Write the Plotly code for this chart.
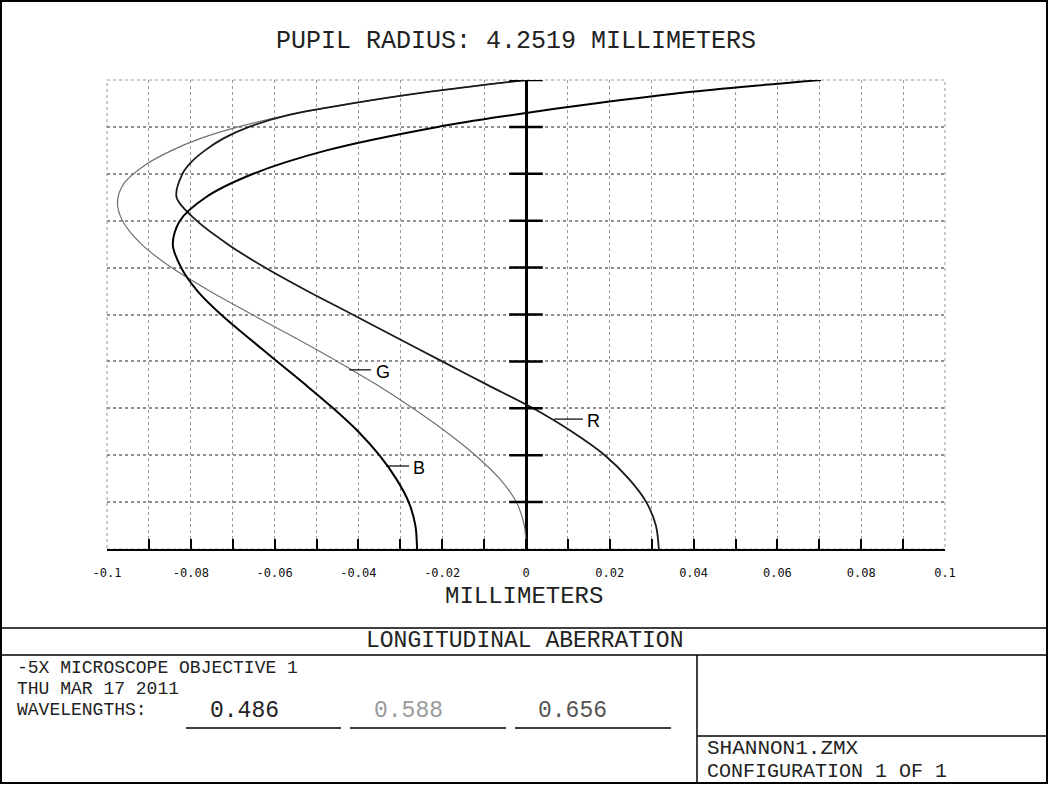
import plotly.graph_objects as go

# ---------------- data ----------------
pupil_B = [0.0, 0.05, 0.10, 0.15, 0.20, 0.25, 0.30, 0.35, 0.40, 0.45, 0.50, 0.55, 0.60, 0.65,
           0.70, 0.75, 0.80, 0.85, 0.90, 0.925, 0.95, 0.975, 1.0]
long_B = [-0.0260, -0.0264, -0.0280, -0.0310, -0.0350, -0.0400, -0.0460, -0.0526, -0.0594, -0.0662,
          -0.0728, -0.0784, -0.0823, -0.0843, -0.0826, -0.0764, -0.0651, -0.0476, -0.0211, -0.0036,
          0.0164, 0.0395, 0.0704]

pupil_G = [0.0, 0.05, 0.10, 0.15, 0.20, 0.25, 0.30, 0.35, 0.40, 0.45, 0.50, 0.55, 0.60, 0.65,
           0.70, 0.74, 0.78, 0.82, 0.85, 0.875, 0.90, 0.925, 0.95, 0.975, 1.0]
long_G = [0.0, -0.0004, -0.0023, -0.0063, -0.0121, -0.0191, -0.0270, -0.0356, -0.0450, -0.0550,
          -0.0654, -0.0755, -0.0846, -0.0918, -0.0963, -0.0975, -0.0959, -0.0907, -0.0845, -0.0778,
          -0.0687, -0.0568, -0.0415, -0.0229, 0.0]

pupil_R = [0.0, 0.05, 0.10, 0.15, 0.20, 0.25, 0.30, 0.35, 0.40, 0.45, 0.50, 0.55, 0.60, 0.65,
           0.70, 0.75, 0.80, 0.825, 0.85, 0.875, 0.90, 0.925, 0.95, 0.975, 1.0]
long_R = [0.0317, 0.0310, 0.0287, 0.0245, 0.0188, 0.0110, 0.0017, -0.0092, -0.0200, -0.0307,
          -0.0414, -0.0522, -0.0623, -0.0712, -0.0786, -0.0834, -0.0820, -0.0799, -0.0766, -0.0723,
          -0.0661, -0.0568, -0.0415, -0.0229, 0.0]

x_ticks = [round(-0.1 + 0.01 * i, 2) for i in range(21)]
x_tick_labels = ["-0.1", "", "-0.08", "", "-0.06", "", "-0.04", "", "-0.02", "", "0",
                 "", "0.02", "", "0.04", "", "0.06", "", "0.08", "", "0.1"]
pupil_ticks = [0.1, 0.2, 0.3, 0.4, 0.5, 0.6, 0.7, 0.8, 0.9, 1.0]
wavelengths = ["0.486", "0.588", "0.656"]

# ---------------- layout helpers ----------------
W, H = 1049, 785
PL, PR, PT, PB = 107, 945, 80, 549


def px(xp):
    return (xp - PL) / (PR - PL)


def py(yp):
    return (PB - yp) / (PB - PT)


MONO = "Liberation Mono"
TXT = "#222222"

fig = go.Figure()

fig.add_trace(go.Scatter(x=long_G, y=pupil_G, mode="lines",
                         line=dict(color="#707070", width=1.2, shape="spline", smoothing=0.9),
                         hoverinfo="skip", showlegend=False))
fig.add_trace(go.Scatter(x=long_R, y=pupil_R, mode="lines",
                         line=dict(color="#1a1a1a", width=1.8, shape="spline", smoothing=0.9),
                         hoverinfo="skip", showlegend=False))
fig.add_trace(go.Scatter(x=long_B, y=pupil_B, mode="lines",
                         line=dict(color="#000000", width=2.0, shape="spline", smoothing=0.9),
                         hoverinfo="skip", showlegend=False))
# tick marks on the central axis
fig.add_trace(go.Scatter(x=[0] * len(pupil_ticks), y=pupil_ticks, mode="markers",
                         marker=dict(symbol="line-ew", size=24, line=dict(color="black", width=2.5)),
                         hoverinfo="skip", showlegend=False))

shapes = []
shapes.append(dict(type="rect", xref="paper", yref="paper", x0=0, x1=1, y0=0, y1=1,
                   line=dict(color="#999999", width=1, dash="dot"), layer="below"))


def hline(x0, x1, y, w=1.5):
    shapes.append(dict(type="line", xref="paper", yref="paper", x0=px(x0), x1=px(x1),
                       y0=py(y), y1=py(y), line=dict(color="black", width=w)))


def vline(x, y0, y1, w=1.5):
    shapes.append(dict(type="line", xref="paper", yref="paper", x0=px(x), x1=px(x),
                       y0=py(y0), y1=py(y1), line=dict(color="black", width=w)))


shapes.append(dict(type="rect", xref="paper", yref="paper", x0=px(1), x1=px(1047),
                   y0=py(783), y1=py(1), line=dict(color="black", width=2)))
hline(1, 1047, 628)
hline(1, 1047, 655)
vline(697, 655, 783)
hline(697, 1047, 736)
hline(186, 341, 728)
hline(350, 506, 728)
hline(515, 671, 728)

for (xa, xb, yy) in [(-0.0422, -0.0370, 0.382), (-0.0334, -0.0279, 0.177), (0.0067, 0.0136, 0.277)]:
    shapes.append(dict(type="line", xref="x", yref="y", x0=xa, x1=xb, y0=yy, y1=yy,
                       line=dict(color="black", width=1.2)))

annotations = []


def text(t, xp, yp, size, anchor="left", color=TXT, family=MONO):
    annotations.append(dict(text=t, xref="paper", yref="paper", x=px(xp), y=py(yp),
                            xanchor=anchor, yanchor="middle", showarrow=False,
                            font=dict(family=family, size=size, color=color)))


text("PUPIL RADIUS: 4.2519 MILLIMETERS", 516, 41, 25, "center")
text("MILLIMETERS", 524, 596, 24, "center")
text("LONGITUDINAL ABERRATION", 524, 641, 23, "center")
text("-5X MICROSCOPE OBJECTIVE 1", 15, 668, 18)
text("THU MAR 17 2011", 15, 689, 18)
text("WAVELENGTHS:", 15, 710, 18)
text(wavelengths[0], 208, 711, 23, color="#222222")
text(wavelengths[1], 372, 711, 23, color="#9a9a9a")
text(wavelengths[2], 536, 711, 23, color="#555555")
text("SHANNON1.ZMX", 705, 748, 21)
text("CONFIGURATION 1 OF 1", 705, 771.5, 20)

for (lab, xx, yy) in [("G", -0.0341, 0.377), ("B", -0.0255, 0.173), ("R", 0.0160, 0.273)]:
    annotations.append(dict(text=lab, xref="x", yref="y", x=xx, y=yy, xanchor="center",
                            yanchor="middle", showarrow=False,
                            font=dict(family="Liberation Sans", size=18, color="black")))

fig.update_layout(
    width=W, height=H,
    margin=dict(l=PL, r=W - PR, t=PT, b=H - PB, pad=0),
    paper_bgcolor="white", plot_bgcolor="white",
    shapes=shapes, annotations=annotations,
    showlegend=False,
    xaxis=dict(range=[-0.1, 0.1], tickvals=x_ticks, ticktext=x_tick_labels,
               ticks="inside", ticklen=10, tickwidth=1.5, tickcolor="black",
               showline=True, linecolor="black", linewidth=2,
               showgrid=True, gridcolor="#9a9a9a", gridwidth=1, griddash="dot",
               zeroline=True, zerolinecolor="black", zerolinewidth=2.5,
               ticklabelstandoff=12,
               tickfont=dict(family="DejaVu Sans Mono", size=12, color="#111111"),
               fixedrange=True),
    yaxis=dict(range=[0, 1], dtick=0.1, tick0=0, showticklabels=False, ticks="",
               showline=False, zeroline=False,
               showgrid=True, gridcolor="#909090", gridwidth=1.6, griddash="dot",
               fixedrange=True),
)

fig.write_html("out.html", config={"displayModeBar": False},
               post_script="document.body.style.margin='0px';document.body.style.overflow='hidden';")
